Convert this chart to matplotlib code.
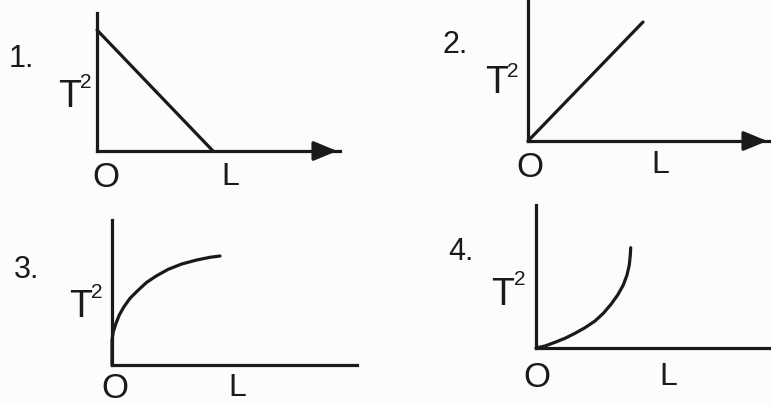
import matplotlib.pyplot as plt

plt.rcParams["font.family"] = ["Liberation Sans", "DejaVu Sans"]

W, H = 771, 405
INK = "#1a1a1a"

# graph 1: T^2 falls linearly with L
g1_L = [0, 116]
g1_T2 = [121, 0]

# graph 2: T^2 rises linearly with L
g2_L = [0, 115]
g2_T2 = [0, 119]

# graph 3: concave curve
g3_L = [0, 0, 0, 1.3, 4, 7.3, 12, 18, 25.3, 34.7, 44.7, 56.3, 69.7, 84.7, 98, 108]
g3_T2 = [0, 12, 25, 33.3, 41.7, 50, 58.3, 66.7, 74, 82.7, 89.3, 95.7, 101, 105, 107.7, 109]

# graph 4: convex curve
g4_L = [0, 9, 19, 29, 39, 49, 59, 67.3, 75, 81.7, 87.3, 91, 93.3, 94.3, 94.7]
g4_T2 = [0, 2, 5.7, 9.7, 14.7, 20.3, 27, 34.7, 43.7, 53, 63, 73, 83, 93, 100.3]

numbers = ["1.", "2.", "3.", "4."]
y_label = "T"
y_power = "2"
origin_label = "O"
x_label = "L"

# panel layout in pixels: origin x, origin y, x-axis length, y-axis height, arrow
panels = [
    (97, 151, 243, 138, True),
    (528, 141, 242, 141, True),
    (112, 365, 245, 145, False),
    (536, 348, 235, 143, False),
]
series = [(g1_L, g1_T2), (g2_L, g2_T2), (g3_L, g3_T2), (g4_L, g4_T2)]

# text positions (x centre, baseline y) in pixels
num_pos = [(21, 67), (455, 53), (27, 278), (461, 260)]
t_pos = [(70, 107), (497, 93), (81, 317), (503, 305)]
sup_pos = [(86, 88), (513, 77), (97, 298), (520, 285)]
o_pos = [(106, 187), (530, 177), (115, 398), (537, 387)]
l_pos = [(230, 185), (660, 173), (237, 396), (668, 385)]

fig = plt.figure(figsize=(W / 100, H / 100), dpi=100)
fig.patch.set_facecolor("#fcfcfc")


def ftext(x, y, s, size):
    fig.text(x / W, 1 - y / H, s, fontsize=size, color=INK,
             ha="center", va="baseline")


for i, (ox, oy, xl, yh, arrow) in enumerate(panels):
    ax = fig.add_axes([ox / W, 1 - oy / H, xl / W, yh / H])
    ax.set_xlim(0, xl)
    ax.set_ylim(0, yh)
    ax.patch.set_alpha(0)
    for side in ["top", "right"]:
        ax.spines[side].set_visible(False)
    for side in ["left", "bottom"]:
        ax.spines[side].set_linewidth(2.3)
        ax.spines[side].set_color(INK)
        ax.spines[side].set_capstyle("projecting")
    ax.set_xticks([])
    ax.set_yticks([])

    xs, ys = series[i]
    ax.plot(xs, ys, color=INK, lw=2.3, solid_capstyle="round",
            solid_joinstyle="round", clip_on=False)

    if arrow:
        ax.annotate("", xy=(xl, 0), xytext=(xl - 22, 0),
                    arrowprops=dict(arrowstyle="-|>,head_length=0.8,head_width=0.33",
                                    color=INK, lw=2.3, mutation_scale=18),
                    annotation_clip=False)

    ftext(*num_pos[i], numbers[i], 22)
    ftext(*t_pos[i], y_label, 27)
    ftext(*sup_pos[i], y_power, 15)
    ftext(*o_pos[i], origin_label, 25)
    ftext(*l_pos[i], x_label, 23)

fig.savefig("out.png", dpi=100, facecolor=fig.get_facecolor())
